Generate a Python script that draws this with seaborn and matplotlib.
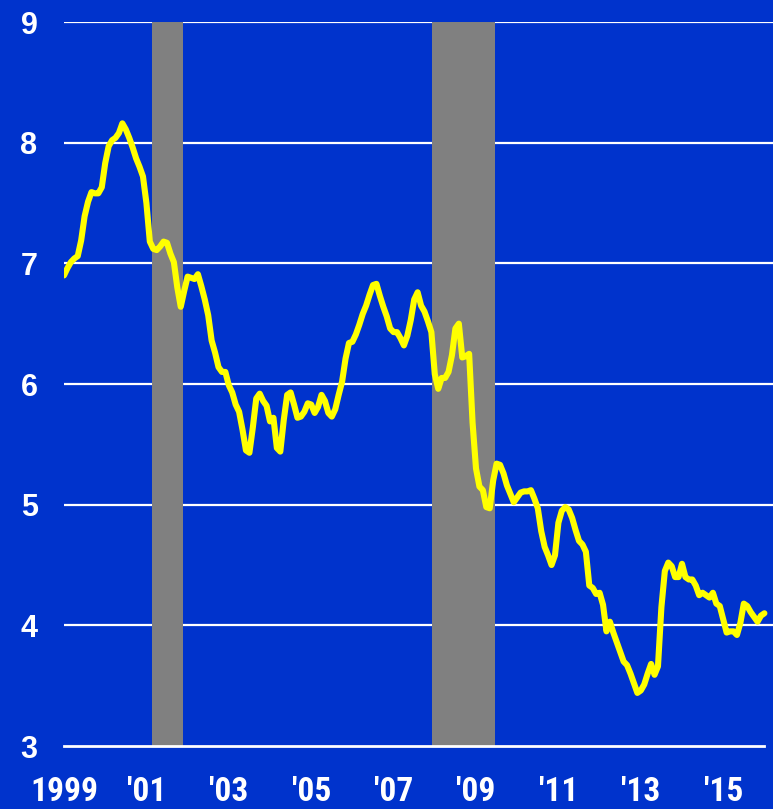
import numpy as np
import pandas as pd
import matplotlib
matplotlib.use("Agg")
import matplotlib.pyplot as plt
import seaborn as sns
from matplotlib import font_manager

# ---- data (monthly, Jan 1999 .. Jan 2016) ----
start_year = 1999
rate = [
    # 1999
    6.90, 6.96, 7.01, 7.04, 7.06, 7.19, 7.39, 7.51, 7.59, 7.58, 7.58, 7.63,
    # 2000
    7.83, 7.97, 8.02, 8.04, 8.08, 8.16, 8.11, 8.04, 7.96, 7.87, 7.80, 7.72,
    # 2001
    7.50, 7.18, 7.12, 7.11, 7.14, 7.18, 7.17, 7.08, 7.01, 6.80, 6.64, 6.77,
    # 2002
    6.89, 6.88, 6.87, 6.91, 6.81, 6.70, 6.57, 6.36, 6.26, 6.14, 6.10, 6.10,
    # 2003
    5.99, 5.93, 5.83, 5.77, 5.62, 5.45, 5.43, 5.64, 5.88, 5.92, 5.86, 5.82,
    # 2004
    5.69, 5.72, 5.47, 5.44, 5.70, 5.91, 5.93, 5.83, 5.72, 5.73, 5.77, 5.84,
    # 2005
    5.83, 5.76, 5.81, 5.91, 5.86, 5.76, 5.73, 5.79, 5.91, 6.02, 6.21, 6.34,
    # 2006
    6.35, 6.41, 6.49, 6.58, 6.65, 6.74, 6.82, 6.83, 6.73, 6.64, 6.56, 6.46,
    # 2007
    6.43, 6.43, 6.38, 6.32, 6.40, 6.53, 6.70, 6.76, 6.65, 6.60, 6.52, 6.43,
    # 2008
    6.08, 5.96, 6.05, 6.05, 6.10, 6.24, 6.46, 6.50, 6.22, 6.23, 6.25, 5.68,
    # 2009
    5.30, 5.15, 5.12, 4.98, 4.97, 5.20, 5.34, 5.33, 5.26, 5.16, 5.09, 5.02,
    # 2010
    5.06, 5.10, 5.11, 5.11, 5.12, 5.05, 4.97, 4.78, 4.65, 4.58, 4.50, 4.58,
    # 2011
    4.85, 4.95, 4.98, 4.96, 4.89, 4.79, 4.70, 4.67, 4.61, 4.33, 4.31, 4.26,
    # 2012
    4.27, 4.17, 3.95, 4.03, 3.94, 3.86, 3.78, 3.70, 3.67, 3.60, 3.52, 3.44,
    # 2013
    3.46, 3.51, 3.60, 3.68, 3.59, 3.66, 4.15, 4.45, 4.52, 4.49, 4.40, 4.40,
    # 2014
    4.51, 4.40, 4.38, 4.38, 4.33, 4.25, 4.27, 4.25, 4.23, 4.27, 4.18, 4.16,
    # 2015
    4.05, 3.94, 3.95, 3.95, 3.92, 4.02, 4.18, 4.16, 4.11, 4.07, 4.03, 4.08,
    # 2016
    4.10,
]

recession_start = [2001.14, 2007.93]
recession_end = [2001.89, 2009.46]

tick_years = list(range(1999, 2017))
label_years = [1999, 2001, 2003, 2005, 2007, 2009, 2011, 2013, 2015]
label_text = ["1999", "'01", "'03", "'05", "'07", "'09", "'11", "'13", "'15"]
y_ticks = [3, 4, 5, 6, 7, 8, 9]

# ---- styling ----
BLUE = "#0033CC"
YELLOW = "#FFFF00"
GREY = "#808080"

sns.set_theme(style="white")
avail = {f.name for f in font_manager.fontManager.ttflist}
narrow = None
for cand in ["Liberation Sans Narrow", "Arial Narrow", "Roboto Condensed",
             "Open Sans Condensed", "DejaVu Sans Condensed"]:
    if cand in avail:
        narrow = cand
        break
plt.rcParams["font.family"] = ["Liberation Sans", "DejaVu Sans"]

df = pd.DataFrame({
    "date": [start_year + i / 12 for i in range(len(rate))],
    "rate": rate,
})

fig = plt.figure(figsize=(7.73, 8.09), dpi=100, facecolor=BLUE)
ax = fig.add_axes([64 / 773, 63 / 809, 1 - 64 / 773, 724 / 809])
ax.set_facecolor(BLUE)

# gridlines
for yv in y_ticks[1:]:
    ax.axhline(yv, color="white", lw=1.6, zorder=1)

# recession bars
for s, e in zip(recession_start, recession_end):
    ax.axvspan(s, e, ymin=0, ymax=1, color=GREY, lw=0, zorder=2)

sns.lineplot(data=df, x="date", y="rate", color=YELLOW, linewidth=4.4,
             ax=ax, zorder=3)

ax.set_xlim(1999, 1999 + 709 / 41.2)
ax.set_ylim(3, 9)
ax.set_xlabel("")
ax.set_ylabel("")
ax.grid(False)

for side in ["top", "left", "right"]:
    ax.spines[side].set_visible(False)
ax.spines["bottom"].set_color("white")
ax.spines["bottom"].set_linewidth(2)
ax.spines["bottom"].set_bounds(1999, 2016)
ax.spines["bottom"].set_zorder(4)

ax.set_xticks(tick_years)
ax.set_xticklabels([label_text[label_years.index(y)] if y in label_years else ""
                    for y in tick_years])
xsize = 24 if narrow else 21
ax.tick_params(axis="x", direction="in", length=8, width=1.6, color="white",
               pad=21.5, labelcolor="white", labelsize=xsize)
for lab in ax.get_xticklabels():
    if narrow:
        lab.set_fontfamily([narrow, "DejaVu Sans"])
    lab.set_fontweight("bold")

ax.set_yticks(y_ticks)
ax.set_yticklabels([str(v) for v in y_ticks])
ax.tick_params(axis="y", length=0, pad=19, labelcolor="white", labelsize=22)
for lab in ax.get_yticklabels():
    lab.set_fontweight("bold")

fig.savefig("out.png", dpi=100, facecolor=BLUE)
